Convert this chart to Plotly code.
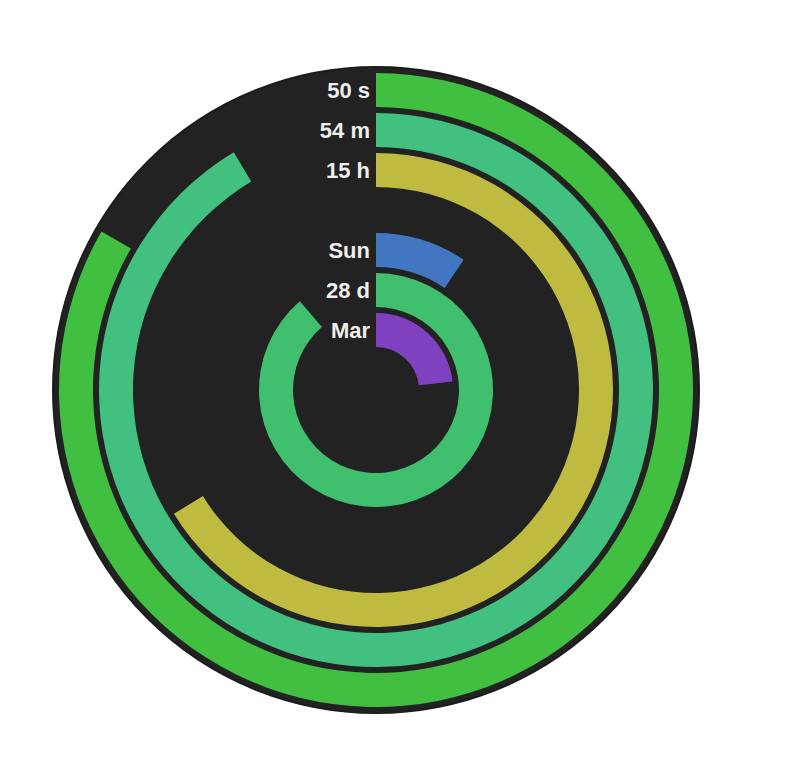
import plotly.graph_objects as go

# region Data
labels = ["50 s", "54 m", "15 h", "Sun", "28 d", "Mar"]
values = [50.0, 54.85, 15.9, 0.66, 27.5, 2.79]
maxima = [60, 60, 24, 7, 31, 12]
colors = ["#41bf41", "#41c07f", "#bfba40", "#4177c0", "#40bf6f", "#7f41c0"]
# endregion

# ring layout (one empty slot between hours and weekday)
slots = [0, 1, 2, 4, 5, 6]
outer_r = 317
thickness = 34
step = 40

bases = [outer_r - thickness - s * step for s in slots]
spans = [v / m * 360 for v, m in zip(values, maxima)]

fig = go.Figure()

fig.add_trace(
    go.Barpolar(
        r=[thickness] * len(labels),
        base=bases,
        theta=[a / 2 for a in spans],
        width=spans,
        marker=dict(color=colors, line=dict(width=0)),
        hoverinfo="skip",
    )
)

# labels sit just left of twelve o'clock on each ring
# (invisible marker pushes the text a few px away from the bar edge,
#  -2 nudges the glyphs down onto the ring's middle)
fig.add_trace(
    go.Scatterpolar(
        r=[b + thickness / 2 - 2 for b in bases],
        theta=[0] * len(labels),
        mode="markers+text",
        marker=dict(size=8, opacity=0),
        text=labels,
        textposition="middle left",
        textfont=dict(family="Liberation Sans, Arial", size=22, color="#eeeeee", weight="bold"),
        hoverinfo="skip",
    )
)

fig.update_layout(
    width=802,
    height=760,
    margin=dict(l=0, r=0, t=0, b=0),
    paper_bgcolor="white",
    plot_bgcolor="white",
    showlegend=False,
    polar=dict(
        domain=dict(x=[45 / 802, 691 / 802], y=[55 / 760, 701 / 760]),
        bgcolor="#222222",
        radialaxis=dict(range=[0, 323], visible=False),
        angularaxis=dict(
            direction="clockwise",
            rotation=90,
            showgrid=False,
            showticklabels=False,
            ticks="",
            showline=True,
            linecolor="#1c1c1c",
            linewidth=2,
        ),
    ),
)

fig.write_html("out.html")
